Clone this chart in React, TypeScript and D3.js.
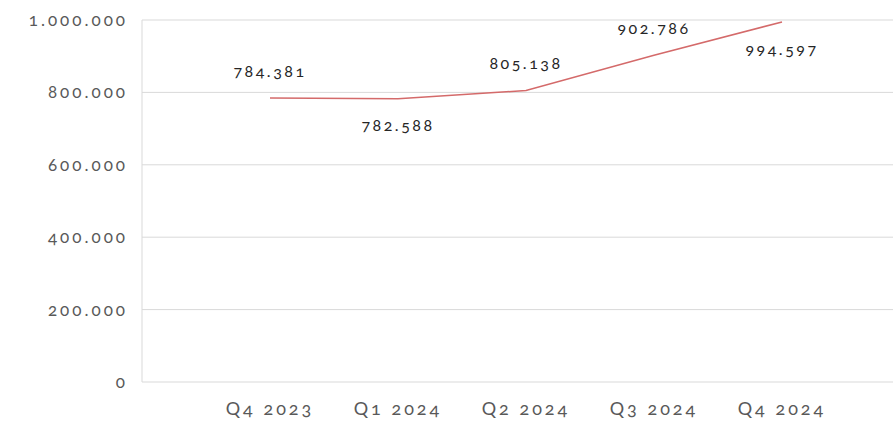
import React from "react";
import * as d3 from "d3";

const categories = ["Q4 2023", "Q1 2024", "Q2 2024", "Q3 2024", "Q4 2024"];
const values = [784381, 782588, 805138, 902786, 994597];
// label placement relative to point: -1 above, 1 below
const labelSide = [-1, 1, -1, -1, 1];
const yTicks = [0, 200000, 400000, 600000, 800000, 1000000];

const width = 893;
const height = 424;
const margin = { top: 20, right: 0, bottom: 42, left: 142 };

const fmt = (v: number) => d3.format(",")(v).replace(/,/g, ".");

export default function App() {
  const step = 128;
  const x = d3
    .scalePoint<string>()
    .domain(categories)
    .range([margin.left + step, margin.left + step * categories.length]);
  const y = d3
    .scaleLinear()
    .domain([0, 1000000])
    .range([height - margin.bottom, margin.top]);

  const line = d3
    .line<number>()
    .x((_, i) => x(categories[i]) as number)
    .y((d) => y(d));

  const font = "Lato, 'Open Sans', sans-serif";

  return (
    <svg
      width={width}
      height={height}
      style={{ position: "absolute", left: 0, top: 0, fontFamily: font, fontFeatureSettings: "'onum'" }}
    >
      <rect width={width} height={height} fill="#fff" />
      {yTicks.map((t) => (
        <g key={t}>
          <line x1={margin.left} x2={width} y1={y(t)} y2={y(t)} stroke="#d9d9d9" strokeWidth={1} />
          <text
            x={margin.left - 14}
            y={y(t)}
            dy="0.35em"
            textAnchor="end"
            fill="#595959"
            fontSize={17}
            letterSpacing={3}
          >
            {fmt(t)}
          </text>
        </g>
      ))}
      <line x1={margin.left} x2={margin.left} y1={y(1000000)} y2={y(0)} stroke="#d9d9d9" strokeWidth={1} />
      {categories.map((c) => (
        <text
          key={c}
          x={x(c)}
          y={y(0) + 33}
          textAnchor="middle"
          fill="#595959"
          fontSize={18}
          letterSpacing={3}
        >
          {c}
        </text>
      ))}
      <path d={line(values) || ""} fill="none" stroke="#d46a6a" strokeWidth={1.5} />
      {values.map((v, i) => (
        <text
          key={i}
          x={x(categories[i])}
          y={y(v) + labelSide[i] * 27}
          dy="0.35em"
          textAnchor="middle"
          fill="#262626"
          fontSize={16}
          letterSpacing={2.5}
        >
          {fmt(v)}
        </text>
      ))}
    </svg>
  );
}
